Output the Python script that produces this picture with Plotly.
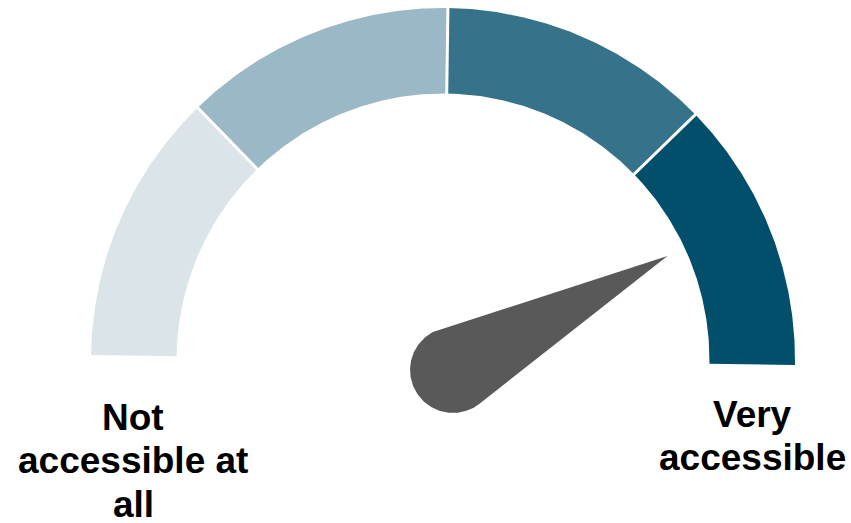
import numpy as np
import plotly.graph_objects as go

# Gauge scale: four equal bands from 0 to 100
band_edges = [0, 25, 50, 75, 100]
band_colors = ["#dae4e9", "#9bb8c6", "#36738b", "#024f6c"]

# Reading shown by the needle (0-100)
needle_value = 84

# End labels, one entry per text line
left_label_lines = ["Not", "accessible at", "all"]
right_label_lines = ["Very", "accessible"]

# Geometry (data units: outer radius = 1)
R_OUT = 1.0
R_IN = 0.757
TILT = -0.8            # small clockwise rotation of the dial, degrees
HUB = (0.0284, -0.0284)
HUB_R = 0.122
NEEDLE_LEN = 0.69
NEEDLE_COLOR = "#595959"

W, H = 851, 523
PX = 352.0             # pixels per data unit
CX, CY = 443.0, 360.0  # dial centre in pixels


def value_to_angle(v):
    """Map a gauge value to a polar angle in degrees (180 = left, 0 = right)."""
    return 180.0 + TILT - 1.8 * v


fig = go.Figure()

# Coloured bands
for lo, hi, col in zip(band_edges[:-1], band_edges[1:], band_colors):
    a0, a1 = np.radians(value_to_angle(lo)), np.radians(value_to_angle(hi))
    t = np.linspace(a0, a1, 120)
    xs = np.concatenate([R_OUT * np.cos(t), R_IN * np.cos(t[::-1])])
    ys = np.concatenate([R_OUT * np.sin(t), R_IN * np.sin(t[::-1])])
    fig.add_trace(go.Scatter(x=xs, y=ys, fill="toself", fillcolor=col,
                             mode="lines", line=dict(width=0, color=col),
                             hoverinfo="skip", showlegend=False))

# White separators between the bands
for v in band_edges[1:-1]:
    a = np.radians(value_to_angle(v))
    fig.add_trace(go.Scatter(x=[0.7 * np.cos(a), 1.05 * np.cos(a)],
                             y=[0.7 * np.sin(a), 1.05 * np.sin(a)],
                             mode="lines", line=dict(width=3, color="white"),
                             hoverinfo="skip", showlegend=False))

# Needle: round hub with a tapering pointer tangent to it
na = np.radians(value_to_angle(needle_value))
tip = (HUB[0] + NEEDLE_LEN * np.cos(na), HUB[1] + NEEDLE_LEN * np.sin(na))
phi = np.arccos(HUB_R / NEEDLE_LEN)
arc = np.linspace(na + phi, na + 2 * np.pi - phi, 160)
nx = np.concatenate([[tip[0]], HUB[0] + HUB_R * np.cos(arc), [tip[0]]])
ny = np.concatenate([[tip[1]], HUB[1] + HUB_R * np.sin(arc), [tip[1]]])
fig.add_trace(go.Scatter(x=nx, y=ny, fill="toself", fillcolor=NEEDLE_COLOR,
                         mode="lines", line=dict(width=0, color=NEEDLE_COLOR),
                         hoverinfo="skip", showlegend=False))

# End labels
label_font = dict(family="Liberation Sans, Arial, sans-serif", size=37, color="#000000")
for lines, xc, y_first in [(left_label_lines, 133, 417), (right_label_lines, 752, 414)]:
    for i, txt in enumerate(lines):
        fig.add_annotation(x=xc / W, y=1 - (y_first + 43.5 * i) / H,
                           xref="paper", yref="paper", text="<b>%s</b>" % txt,
                           showarrow=False, xanchor="center", yanchor="middle",
                           font=label_font)

fig.update_layout(
    width=W, height=H,
    margin=dict(l=0, r=0, t=0, b=0),
    paper_bgcolor="white", plot_bgcolor="white",
    xaxis=dict(range=[-CX / PX, (W - CX) / PX], visible=False, fixedrange=True),
    yaxis=dict(range=[-(H - CY) / PX, CY / PX], visible=False, fixedrange=True),
)

fig.write_html("out.html")
